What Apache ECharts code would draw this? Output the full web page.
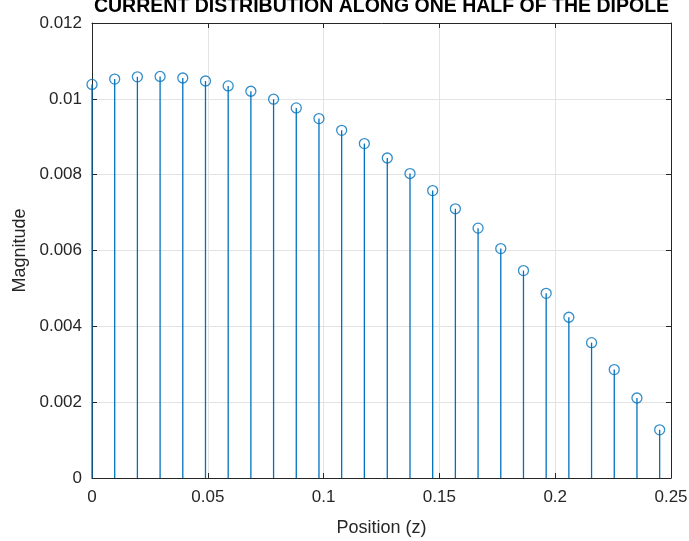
<!DOCTYPE html>
<html>
<head>
<meta charset="utf-8">
<title>Current distribution along one half of the dipole</title>
<script src="https://cdn.jsdelivr.net/npm/echarts@6/dist/echarts.min.js"></script>
<style>
  html, body { margin: 0; padding: 0; background: #fff; }
  #chart { width: 689px; height: 541px; }
</style>
</head>
<body>
<div id="chart"></div>
<script>
// Segment positions along the half-dipole (z, in wavelengths)
const zPositions = [
  0, 0.0098, 0.0196, 0.0294, 0.0392, 0.0490, 0.0588, 0.0686, 0.0784, 0.0882,
  0.0980, 0.1078, 0.1176, 0.1275, 0.1373, 0.1471, 0.1569, 0.1667, 0.1765,
  0.1863, 0.1961, 0.2059, 0.2157, 0.2255, 0.2353, 0.2451
];
// Current magnitude at each segment
const magnitudes = [
  0.01038, 0.01052, 0.01058, 0.01059, 0.01055, 0.01047, 0.01034, 0.01020, 0.00999,
  0.00976, 0.00948, 0.00917, 0.00882, 0.00844, 0.00803, 0.00758, 0.00710, 0.00659,
  0.00605, 0.00547, 0.00487, 0.00424, 0.00357, 0.00286, 0.00211, 0.00127
];
const xTickLabels = ['0', '0.05', '0.1', '0.15', '0.2', '0.25'];
const yTickLabels = ['0', '0.002', '0.004', '0.006', '0.008', '0.01', '0.012'];

const titleText = 'CURRENT DISTRIBUTION ALONG ONE HALF OF THE DIPOLE';
const xName = 'Position (z)';
const yName = 'Magnitude';

const stemData = zPositions.map((z, i) => [z, magnitudes[i]]);

const FONT = '"Liberation Sans", Arial, Helvetica, sans-serif';
const STEM = '#0072BD';
const AXIS = '#262626';
const GRID_LINE = '#e3e3e3';

const chart = echarts.init(document.getElementById('chart'), null, { renderer: 'canvas' });

const baseX = { type: 'value', min: 0, max: 0.25, interval: 0.05 };
const baseY = { type: 'value', min: 0, max: 0.012, interval: 0.002 };
const frameTick = { show: true, inside: true, length: 5, lineStyle: { color: AXIS, width: 1 } };
const frameLine = { show: true, onZero: false, lineStyle: { color: AXIS, width: 1 } };

chart.setOption({
  animation: false,
  backgroundColor: '#fff',
  grid: { left: 92, right: 18, top: 23, bottom: 63, outerBoundsMode: 'none' },
  graphic: [{
    type: 'text',
    x: 381.5,
    y: 6.5,
    style: {
      text: titleText,
      font: 'bold 19.5px ' + FONT,
      fill: '#000',
      align: 'center',
      verticalAlign: 'middle'
    }
  }],
  xAxis: [
    Object.assign({}, baseX, {
      position: 'bottom',
      name: xName,
      nameLocation: 'middle',
      nameGap: 41,
      nameTextStyle: { fontFamily: FONT, fontSize: 18, color: AXIS },
      axisLine: frameLine,
      axisTick: frameTick,
      axisLabel: {
        margin: 11,
        fontFamily: FONT, fontSize: 17, color: AXIS,
        formatter: (v, i) => xTickLabels[i]
      },
      splitLine: { show: true, lineStyle: { color: GRID_LINE, width: 1 } }
    }),
    Object.assign({}, baseX, {
      position: 'top',
      axisLine: frameLine,
      axisTick: frameTick,
      axisLabel: { show: false },
      splitLine: { show: false }
    })
  ],
  yAxis: [
    Object.assign({}, baseY, {
      position: 'left',
      name: yName,
      nameLocation: 'middle',
      nameGap: 61,
      nameTextStyle: { fontFamily: FONT, fontSize: 18, color: AXIS },
      axisLine: frameLine,
      axisTick: frameTick,
      axisLabel: {
        margin: 10,
        fontFamily: FONT, fontSize: 17, color: AXIS,
        formatter: (v, i) => yTickLabels[i]
      },
      splitLine: { show: true, lineStyle: { color: GRID_LINE, width: 1 } }
    }),
    Object.assign({}, baseY, {
      position: 'right',
      axisLine: frameLine,
      axisTick: frameTick,
      axisLabel: { show: false },
      splitLine: { show: false }
    })
  ],
  series: [
    {
      // vertical stems from zero up to each value
      type: 'custom',
      xAxisIndex: 0,
      yAxisIndex: 0,
      data: stemData,
      z: 3,
      renderItem: function (params, api) {
        const top = api.coord([api.value(0), api.value(1)]);
        const base = api.coord([api.value(0), 0]);
        return {
          type: 'line',
          shape: { x1: base[0], y1: base[1], x2: top[0], y2: top[1] },
          style: { stroke: STEM, lineWidth: 1.3 }
        };
      }
    },
    {
      // open circle markers at each value
      type: 'scatter',
      xAxisIndex: 0,
      yAxisIndex: 0,
      data: stemData,
      z: 4,
      symbol: 'circle',
      symbolSize: 10,
      itemStyle: { color: 'transparent', borderColor: STEM, borderWidth: 1.3 },
      emphasis: { disabled: true }
    }
  ]
});
</script>
</body>
</html>
